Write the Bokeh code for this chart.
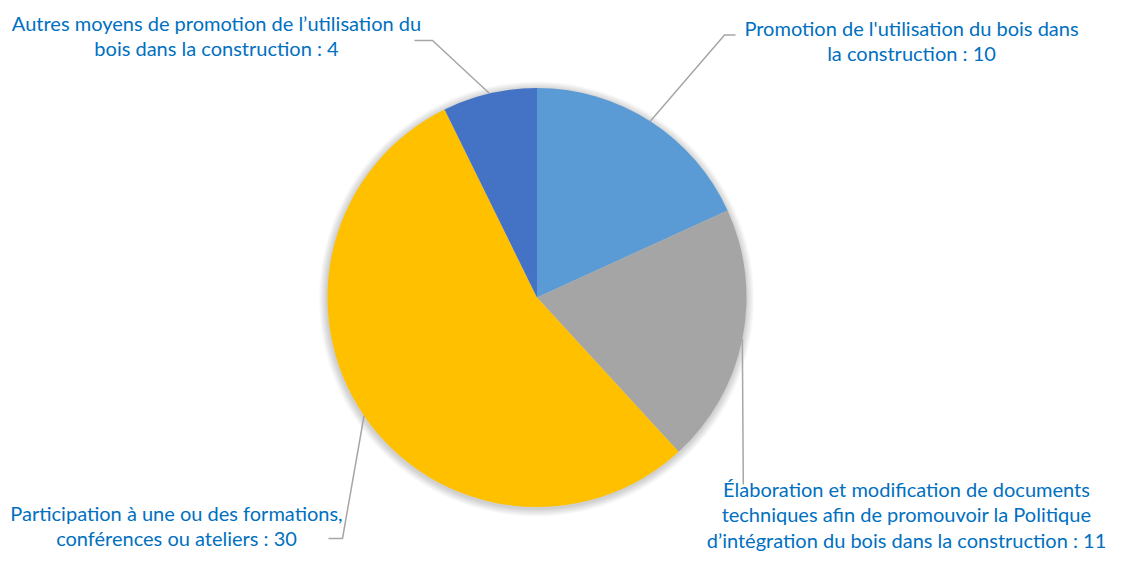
import math
from bokeh.plotting import figure
from bokeh.models import Range1d, ColumnDataSource
from bokeh.core.properties import value
from bokeh.embed import file_html
from bokeh.resources import INLINE

# ---- data ----
categories = [
    "Promotion de l'utilisation du bois dans la construction",
    "Élaboration et modification de documents techniques afin de promouvoir la Politique d’intégration du bois dans la construction",
    "Participation à une ou des formations, conférences ou ateliers",
    "Autres moyens de promotion de l’utilisation du bois dans la construction",
]
counts = [10, 11, 30, 4]
colors = ["#5B9BD5", "#A5A5A5", "#FFC000", "#4472C4"]
label_lines = [
    ["Promotion de l'utilisation du bois dans", "la construction : 10"],
    ["Élaboration et modification de documents",
     "techniques afin de promouvoir la Politique",
     "d’intégration du bois dans la construction : 11"],
    ["Participation à une ou des formations,", "conférences ou ateliers : 30"],
    ["Autres moyens de promotion de l’utilisation du", "bois dans la construction : 4"],
]

# ---- layout (picture pixel coordinates; data y = -pixel y) ----
W, H = 1111, 553
cx, cy, R = 536.5, 297.0, 209.5
label_centers = [(911, 27), (906, 488), (176, 512), (216, 22)]
line_gap = 25.5
elbows = [
    [(724, 34.5), (735, 34.5)],
    [(742.8, 484)],
    [(342, 538), (328, 538)],
    [(432, 40), (414, 40)],
]

p = figure(width=W, height=H, output_backend="svg", toolbar_location=None,
           x_range=Range1d(0, W), y_range=Range1d(-H, 0),
           min_border=0, outline_line_color=None)
p.axis.visible = False
p.grid.visible = False
p.background_fill_color = "white"
p.border_fill_color = "white"

# soft shadow around the pie
for k in range(1, 9):
    p.circle(x=[cx - 0.5], y=[-(cy + 1.5)], radius=R + k, fill_color="black",
             fill_alpha=0.022, line_color=None)

total = sum(counts)
starts, ends, mids = [], [], []
cum = 0
for c in counts:
    a0 = math.pi / 2 - 2 * math.pi * cum / total
    cum += c
    a1 = math.pi / 2 - 2 * math.pi * cum / total
    starts.append(a0)
    ends.append(a1)
    mids.append((a0 + a1) / 2)

src = ColumnDataSource(dict(x=[cx] * len(counts), y=[-cy] * len(counts),
                            start=starts, end=ends, color=colors, cat=categories,
                            count=counts))
p.wedge(x="x", y="y", radius=R, start_angle="start", end_angle="end",
        direction="clock", fill_color="color", line_color=None, source=src)

# leader lines
for m, el in zip(mids, elbows):
    px = cx + R * math.cos(m)
    py = cy - R * math.sin(m)
    xs = [px] + [e[0] for e in el]
    ys = [-py] + [-e[1] for e in el]
    p.line(xs, ys, line_color="#A6A6A6", line_width=1.5)

# labels
tx, ty, tt = [], [], []
for (lx, ly), lines in zip(label_centers, label_lines):
    for i, t in enumerate(lines):
        tx.append(lx)
        ty.append(-(ly + i * line_gap))
        tt.append(t)
p.text(x=tx, y=ty, text=tt, text_font=value("Lato"), text_font_size="20px",
       text_color="#0070C0", text_align="center", text_baseline="middle")

open("out.html", "w").write(file_html(p, INLINE))
